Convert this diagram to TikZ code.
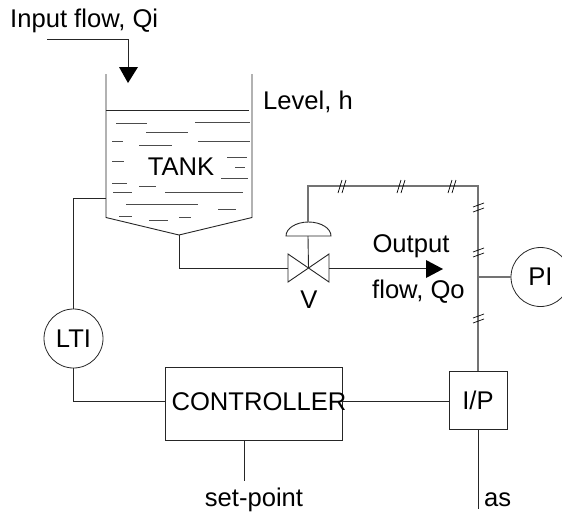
\documentclass[tikz,border=0pt]{standalone}
\usepackage{fontspec}
\setmainfont{Liberation Sans}
\usetikzlibrary{arrows.meta}
\tikzset{
	wire/.style={black!85, line width=0.9pt},
	graywire/.style={gray!90!black, line width=1.4pt},
	ripple/.style={black!70, line width=0.8pt},
	lbl/.style={inner sep=0pt, font=\fontsize{25.6}{26}\selectfont},
	instr/.style={draw=black!85, circle, line width=0.8pt, minimum size=59pt, inner sep=0pt, font=\fontsize{25.6}{26}\selectfont},
	blockbox/.style={draw=black!85, line width=0.9pt, inner sep=0pt},
	flowtip/.style={fill=black, draw=none},
	tick/.style={black, line width=0.7pt},
}
\begin{document}
\begin{tikzpicture}[x=1pt, y=-1pt]
	\useasboundingbox (0,0) rectangle (562,515);
	% Input flow
	\node[lbl, anchor=west] (inlbl) at (10,21) {Input flow, Qi};
	\coordinate (instart) at (47,39);
	\coordinate (inbend) at (128,39);
	\coordinate (intip) at (128,83);
	\draw[wire] (instart) -- (inbend) -- (128,67);
	\fill[flowtip] (119,67) -- (138,67) -- (intip) -- cycle;
	% Tank
	\coordinate (tanktl) at (106,74);
	\coordinate (tanktr) at (252,74);
	\coordinate (tankbl) at (106,217.5);
	\coordinate (tankbr) at (252,217.5);
	\coordinate (apex) at (179,235);
	\draw[wire] (tanktl) -- (tankbl) -- (apex) -- (tankbr) -- (tanktr);
	\draw[wire] (106,110) -- (249,110);
	% Liquid ripples
	\foreach \xa/\xb/\y in {116/147/123, 146/188/132, 195/250/122, 112/123/141, 139/172/145, 198/250/141,
		112/124/161, 227/247/157, 235/245/167, 221/248/178, 112/127/183, 139/156/186, 113/132/192,
		165/243/192, 126/198/204, 218/236/209, 119/132/216, 149/168/220, 179/191/217}{
		\draw[ripple] (\xa,\y) -- (\xb,\y);
	}
	\node[lbl] (tanklbl) at (181,167) {TANK};
	\node[lbl, anchor=west] (levellbl) at (263,102) {Level, h};
	% Valve and outlet
	\coordinate (valve) at (308.5,268);
	\coordinate (vleft) at (288,268);
	\coordinate (vright) at (329,268);
	\coordinate (outtip) at (443,269);
	\draw[wire] (apex) -- (179,268) -- (vleft);
	\draw[wire, fill=white] (288,254) -- (288,282) -- (329,254) -- (329,282) -- cycle;
	\draw[wire] (vright) -- (426,268);
	\fill[flowtip] (426,260) -- (outtip) -- (426,278) -- cycle;
	\node[lbl] (vlbl) at (309,300) {V};
	\node[lbl] (outlbl) at (411,246) {Output};
	\node[lbl, anchor=west] (flowlbl) at (372,292) {flow, Qo};
	% Actuator
	\coordinate (stemtop) at (308,222);
	\coordinate (stembase) at (308,236);
	\draw[wire] (286,236) arc[start angle=180, end angle=0, x radius=22.5pt, y radius=14pt] -- cycle;
	\draw[wire] (stembase) -- (valve);
	% Instruments and controller
	\node[instr] (lti) at (73.5,338.5) {LTI};
	\node[instr] (pi) at (540.5,277) {PI};
	\node[blockbox, minimum width=177pt, minimum height=73pt] (controller) at (253.5,403.5) {};
	\node[lbl] (ctrllbl) at (259,402) {CONTROLLER};
	\node[blockbox, minimum width=58pt, minimum height=58pt, font=\fontsize{25.6}{26}\selectfont] (ip) at (478,400) {I/P};
	% Signal lines
	\draw[wire] (tankbl |- 0,198) -- (73,198) -- (lti.north -| 73,0);
	\draw[wire] (lti.south) -- (73.5,401) -- (controller.west |- 0,401);
	\draw[wire] (controller.east |- 0,401) -- (ip.west |- 0,401);
	\coordinate (setend) at (244,481);
	\draw[wire] (controller.south -| setend) -- (setend);
	\node[lbl] (setlbl) at (254,500) {set-point};
	\coordinate (airend) at (478,509);
	\draw[wire] (ip.south) -- (airend);
	\node[lbl, anchor=west] (aslbl) at (484,500) {as};
	% Pneumatic line
	\coordinate (corner) at (478,186);
	\draw[graywire] (stemtop) -- (308,186) -- (corner) -- (ip.north);
	\draw[graywire] (478,277) -- (pi.west);
	% Pneumatic ticks
	\foreach \x in {341,400,451}{
		\draw[tick] (\x-3,193) -- (\x+1,180);
		\draw[tick] (\x+1,193) -- (\x+5,180);
	}
	\foreach \y in {208,253,319}{
		\draw[tick] (473,\y-1) -- (484,\y-5);
		\draw[tick] (473,\y+4) -- (484,\y);
	}
\end{tikzpicture}
\end{document}
